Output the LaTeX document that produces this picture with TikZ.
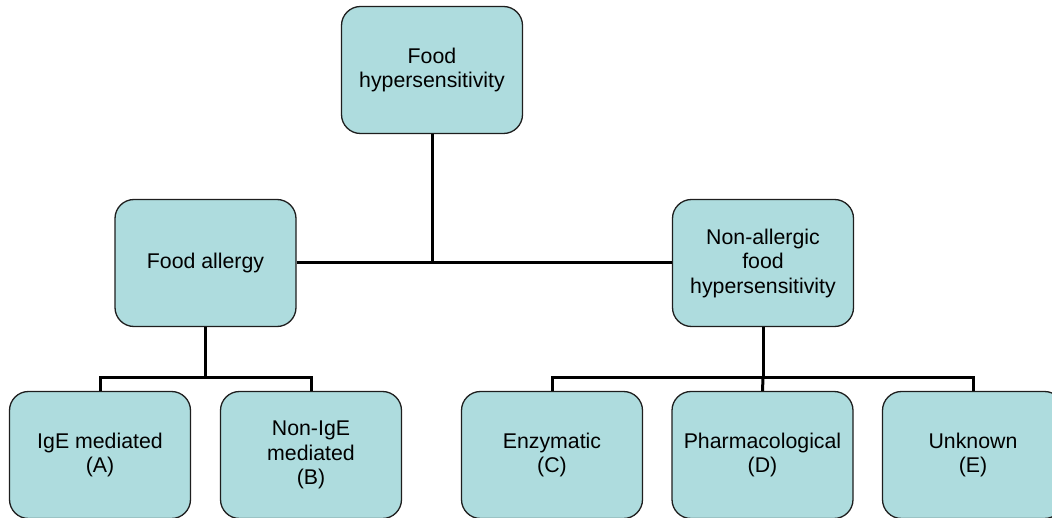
\documentclass[tikz,border=0pt]{standalone}
\usepackage{fontspec}
\setmainfont{Liberation Sans}
\definecolor{boxfill}{RGB}{174,220,222}
\definecolor{boxline}{RGB}{30,30,30}
\begin{document}
\begin{tikzpicture}[x=1pt,y=-1pt,
  catbox/.style={draw=boxline, line width=1.3pt, fill=boxfill, rounded corners=19pt,
    minimum width=181pt, minimum height=127pt, align=center,
    font=\fontsize{21.3}{24.5}\selectfont, inner sep=2pt},
  link/.style={line width=3pt, draw=black}]
\useasboundingbox (0,0) rectangle (1052,518);
\begin{scope}
\clip (0,0) rectangle (1052,518);
% tree connectors
\coordinate (jtop) at (432,264);
\coordinate (jleft) at (205.5,378);
\coordinate (jright) at (763,378);

\node[catbox] (fh) at (432,70) {Food\\hypersensitivity};
\node[catbox] (fa) at (205.5,263) {Food allergy};
\node[catbox] (na) at (763,263) {Non-allergic\\food\\hypersensitivity};

\node[catbox] (ige) at (100,455) {IgE mediated\\(A)};
\node[catbox] (nige) at (311,455) {Non-IgE\\mediated\\(B)};
\node[catbox] (enz) at (552,455) {Enzymatic\\(C)};
\node[catbox] (pha) at (762.5,455) {Pharmacological\\(D)};
\node[catbox] (unk) at (973,455) {Unknown\\(E)};

\draw[link] (fh.south) -- (jtop);
\draw[link] (fa.east) -- (na.west);
\draw[link] (fa.south) -- (jleft);
\draw[link] (ige.north) -- (ige.north |- jleft) -- (nige.north |- jleft) -- (nige.north);
\draw[link] (na.south) -- (jright);
\draw[link] (enz.north) -- (enz.north |- jright) -- (unk.north |- jright) -- (unk.north);
\draw[link] (jright) -- (pha.north);
\end{scope}
\end{tikzpicture}
\end{document}
